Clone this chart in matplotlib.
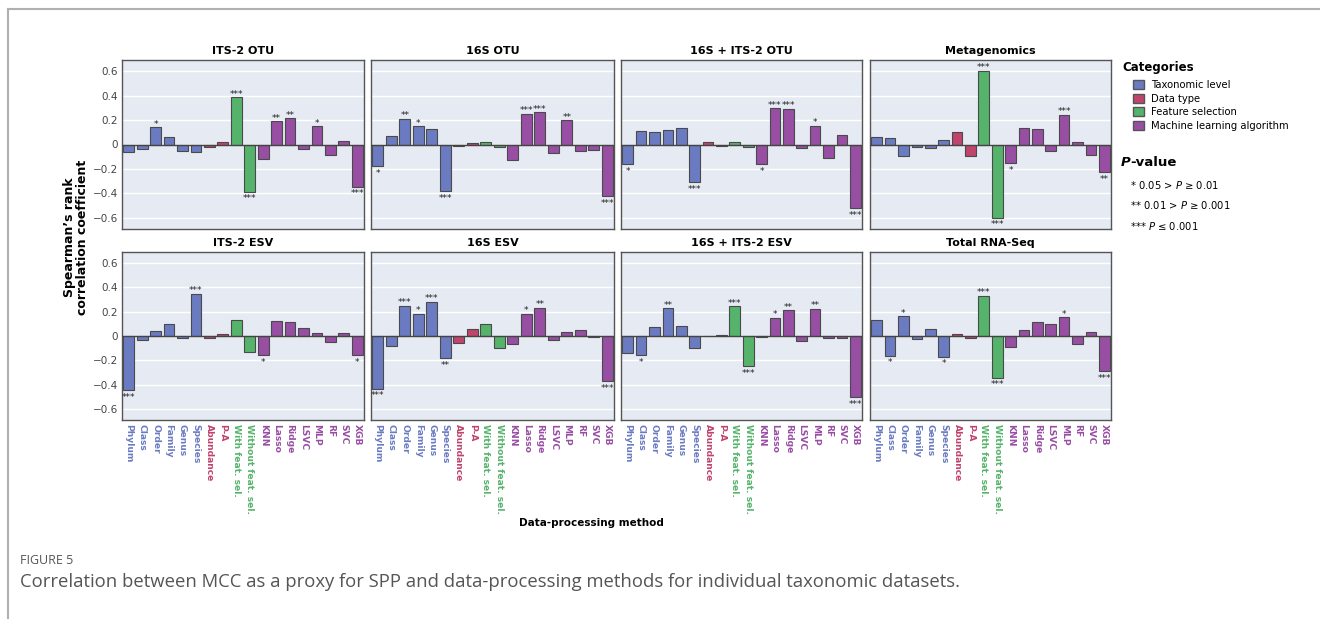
import matplotlib
matplotlib.use("Agg")
import matplotlib.pyplot as plt
import numpy as np
from matplotlib.patches import Patch
from matplotlib.lines import Line2D

# categories along the x axis
methods = ["Phylum", "Class", "Order", "Family", "Genus", "Species",
           "Abundance", "P-A", "With feat. sel.", "Without feat. sel.",
           "KNN", "Lasso", "Ridge", "LSVC", "MLP", "RF", "SVC", "XGB"]
method_group = [0, 0, 0, 0, 0, 0, 1, 1, 2, 2, 3, 3, 3, 3, 3, 3, 3, 3]

group_names = ["Taxonomic level", "Data type", "Feature selection", "Machine learning algorithm"]
group_colors = ["#6a7bc2", "#c0446c", "#56b36c", "#984ea3"]

panel_titles = ["ITS-2 OTU", "16S OTU", "16S + ITS-2 OTU", "Metagenomics",
                "ITS-2 ESV", "16S ESV", "16S + ITS-2 ESV", "Total RNA-Seq"]

its2_otu = [-0.06, -0.04, 0.14, 0.065, -0.055, -0.06, -0.024, 0.024, 0.384, -0.384,
            -0.116, 0.19, 0.214, -0.038, 0.149, -0.089, 0.032, -0.343]
s16_otu = [-0.178, 0.068, 0.208, 0.149, 0.127, -0.381, -0.013, 0.011, 0.022, -0.024,
           -0.13, 0.251, 0.262, -0.07, 0.197, -0.054, -0.046, -0.419]
comb_otu = [-0.16, 0.114, 0.105, 0.116, 0.132, -0.305, 0.019, -0.016, 0.024, -0.022,
            -0.157, 0.295, 0.292, -0.03, 0.151, -0.108, 0.078, -0.519]
metagen = [0.065, 0.054, -0.092, -0.024, -0.032, 0.035, 0.10, -0.097, 0.60, -0.597,
           -0.154, 0.135, 0.13, -0.054, 0.24, 0.024, -0.089, -0.224]
its2_esv = [-0.443, -0.032, 0.043, 0.097, -0.016, 0.349, -0.016, 0.014, 0.13, -0.132,
            -0.154, 0.124, 0.116, 0.062, 0.024, -0.051, 0.024, -0.154]
s16_esv = [-0.432, -0.086, 0.246, 0.181, 0.281, -0.184, -0.059, 0.059, 0.097, -0.097,
           -0.065, 0.181, 0.232, -0.032, 0.03, 0.046, -0.011, -0.373]
comb_esv = [-0.138, -0.157, 0.078, 0.227, 0.086, -0.097, -0.003, 0.005, 0.243, -0.246,
            -0.011, 0.149, 0.211, -0.038, 0.222, -0.016, -0.016, -0.50]
total_rna = [0.135, -0.162, 0.162, -0.024, 0.059, -0.17, 0.016, -0.016, 0.332, -0.341,
             -0.089, 0.051, 0.114, 0.097, 0.154, -0.065, 0.035, -0.289]

# significance stars
its2_otu_sig = ["", "", "*", "", "", "", "", "", "***", "***", "", "**", "**", "", "*", "", "", "***"]
s16_otu_sig = ["*", "", "**", "*", "", "***", "", "", "", "", "", "***", "***", "", "**", "", "", "***"]
comb_otu_sig = ["*", "", "", "", "", "***", "", "", "", "", "*", "***", "***", "", "*", "", "", "***"]
metagen_sig = ["", "", "", "", "", "", "", "", "***", "***", "*", "", "", "", "***", "", "", "**"]
its2_esv_sig = ["***", "", "", "", "", "***", "", "", "", "", "*", "", "", "", "", "", "", "*"]
s16_esv_sig = ["***", "", "***", "*", "***", "**", "", "", "", "", "", "*", "**", "", "", "", "", "***"]
comb_esv_sig = ["", "*", "", "**", "", "", "", "", "***", "***", "", "*", "**", "", "**", "", "", "***"]
total_rna_sig = ["", "*", "*", "", "", "*", "", "", "***", "***", "", "", "", "", "*", "", "", "***"]

panel_values = [its2_otu, s16_otu, comb_otu, metagen, its2_esv, s16_esv, comb_esv, total_rna]
panel_sigs = [its2_otu_sig, s16_otu_sig, comb_otu_sig, metagen_sig,
              its2_esv_sig, s16_esv_sig, comb_esv_sig, total_rna_sig]

W, H = 1320, 619
fig = plt.figure(figsize=(W / 100, H / 100), dpi=100)

lefts = [122, 371, 621, 870]
rights = [364, 614, 862, 1111]
tops = [60, 252]
bottoms = [229, 420]

bar_colors = [group_colors[g] for g in method_group]
x = np.arange(len(methods))
yticks = [-0.6, -0.4, -0.2, 0, 0.2, 0.4, 0.6]
ytick_labels = ["\u22120.6", "\u22120.4", "\u22120.2", "0", "0.2", "0.4", "0.6"]

for k in range(8):
    r, c = divmod(k, 4)
    ax = fig.add_axes([lefts[c] / W, 1 - bottoms[r] / H,
                       (rights[c] - lefts[c]) / W, (bottoms[r] - tops[r]) / H])
    ax.set_facecolor("#e5eaf3")
    ax.set_axisbelow(True)
    ax.grid(axis="y", color="white", linewidth=1)
    vals = panel_values[k]
    ax.bar(x, vals, width=0.8, color=bar_colors, edgecolor="#4a4a4a", linewidth=0.8, zorder=2)
    ax.axhline(0, color="#444444", linewidth=1, zorder=3)
    for i, (v, s) in enumerate(zip(vals, panel_sigs[k])):
        if not s:
            continue
        if v >= 0:
            ax.annotate(s, (i, v), xytext=(0, -1), textcoords="offset points",
                        ha="center", va="bottom", fontsize=6.5, color="#222222")
        else:
            ax.annotate(s, (i, v), xytext=(0, -2), textcoords="offset points",
                        ha="center", va="top", fontsize=6.5, color="#222222")
    ax.set_xlim(-0.5, len(methods) - 0.5)
    ax.set_ylim(-0.69, 0.69)
    ax.set_yticks(yticks)
    ax.tick_params(length=0, pad=3)
    if c == 0:
        ax.set_yticklabels(ytick_labels, fontsize=7.5, color="#444444")
    else:
        ax.set_yticklabels([])
    if r == 1:
        ax.set_xticks(x)
        ax.set_xticklabels(methods, rotation=270, fontsize=6.6, fontweight="bold")
        for lab, col in zip(ax.get_xticklabels(), bar_colors):
            lab.set_color(col)
    else:
        ax.set_xticks([])
    for sp in ax.spines.values():
        sp.set_color("#555555")
        sp.set_linewidth(1)
    ax.set_title(panel_titles[k], fontsize=8, fontweight="bold", pad=4)

fig.text(76 / W, 1 - 237 / H, "Spearman\u2019s rank\ncorrelation coefficient", rotation=90,
         ha="center", va="center", fontsize=9, fontweight="bold", linespacing=1.1)
fig.text(591 / W, 1 - 523 / H, "Data-processing method", ha="center", va="center",
         fontsize=7.5, fontweight="bold")

# legend
fig.text(1122 / W, 1 - 68 / H, "Categories", fontsize=8.5, fontweight="bold", va="center")
handles = [Patch(facecolor=col, edgecolor="#555555", label=name)
           for col, name in zip(group_colors, group_names)]
leg = fig.legend(handles=handles, loc="upper left",
                 bbox_to_anchor=(1126 / W, 1 - 73 / H), frameon=False, fontsize=7.2,
                 handlelength=1.05, handleheight=1.05, handletextpad=0.75, labelspacing=0.35,
                 borderpad=0.2)

fig.text(1121 / W, 1 - 163 / H, "P", fontsize=9.5, fontweight="bold", fontstyle="italic",
         va="center", ha="left")
fig.text(1130 / W, 1 - 163 / H, "-value", fontsize=9.5, fontweight="bold", va="center", ha="left")
fig.text(1130 / W, 1 - 185 / H, "* 0.05 > $P$ \u2265 0.01", fontsize=7.2, va="center")
fig.text(1130 / W, 1 - 205 / H, "** 0.01 > $P$ \u2265 0.001", fontsize=7.2, va="center")
fig.text(1130 / W, 1 - 226 / H, "*** $P$ \u2264 0.001", fontsize=7.2, va="center")

# caption
fig.text(20 / W, 1 - 560 / H, "FIGURE 5", fontsize=9, color="#555555", va="center",
         family="Open Sans")
fig.text(20 / W, 1 - 582 / H,
         "Correlation between MCC as a proxy for SPP and data-processing methods for individual taxonomic datasets.",
         fontsize=13.3, color="#555555", va="center", family="Open Sans")

# frame lines
fig.add_artist(Line2D([8 / W, 1], [1 - 9 / H, 1 - 9 / H], color="#b0b0b0", linewidth=1.5))
fig.add_artist(Line2D([8 / W, 8 / W], [0, 1 - 9 / H], color="#b0b0b0", linewidth=1.5))

fig.savefig("out.png", dpi=100)
